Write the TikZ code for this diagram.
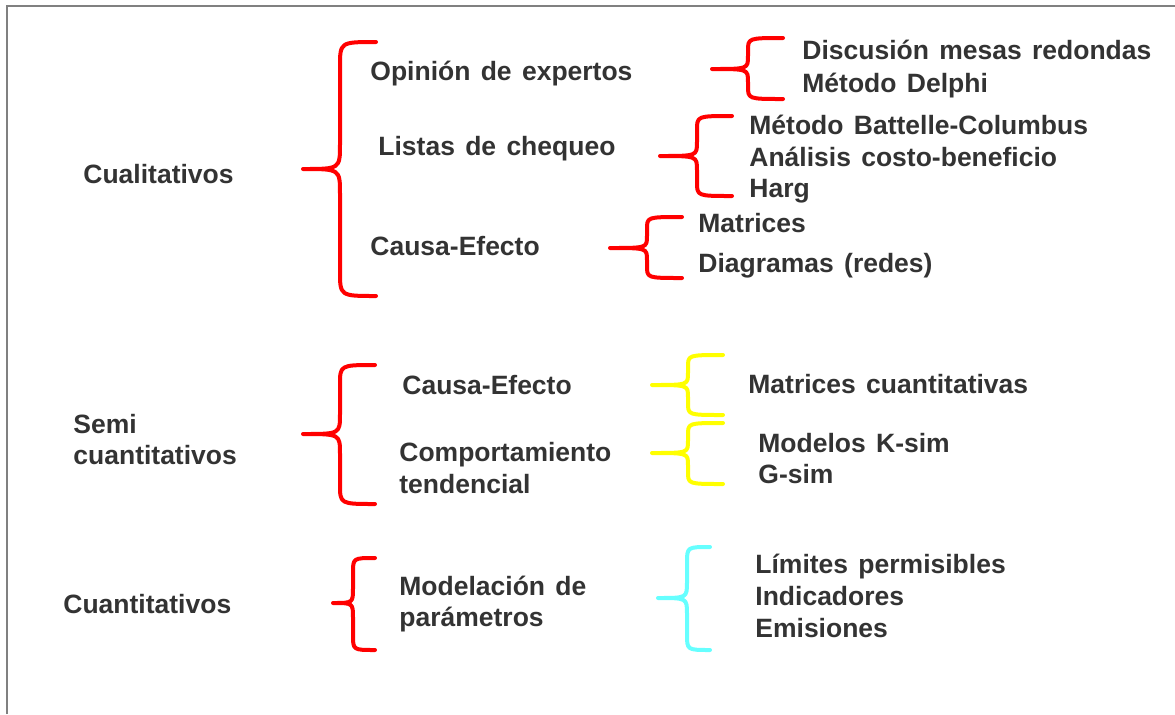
\documentclass[tikz,border=0pt]{standalone}
\usepackage{fontspec}
\setmainfont{Liberation Sans}[WordSpace=1.4]
\usepackage{xcolor}
\definecolor{gristexto}{RGB}{51,51,51}
\definecolor{rojo}{RGB}{255,0,0}
\definecolor{amarillo}{RGB}{255,255,0}
\definecolor{celeste}{RGB}{102,255,255}
\definecolor{marco}{RGB}{128,128,128}

\begin{document}
\begin{tikzpicture}[x=0.5pt,y=-0.5pt,
	etiqueta/.style={anchor=base west,inner sep=0pt,text=gristexto,font=\fontsize{13.25}{16}\selectfont\bfseries},
	llave/.style={line width=2pt,line cap=round,line join=round}]
				\useasboundingbox (0,0) rectangle (1175,714);
				\draw[marco, line width=1pt] (7,714) -- (7,5.5) -- (1175,5.5);
				% Cualitativos
				\node (cual) at (83,183) [etiqueta] {Cualitativos};
				\node (opin) at (370,80) [etiqueta] {Opinión de expertos};
				\node (list) at (378,155) [etiqueta] {Listas de chequeo};
				\node (causaA) at (370,255) [etiqueta] {Causa-Efecto};
				\node (disc) at (802,59) [etiqueta] {Discusión mesas redondas};
				\node (delphi) at (802,92) [etiqueta] {Método Delphi};
				\node (batt) at (749,134) [etiqueta] {Método Battelle-Columbus};
				\node (anal) at (749,166) [etiqueta] {Análisis costo-beneficio};
				\node (harg) at (749,197) [etiqueta] {Harg};
				\node (matr) at (698,232) [etiqueta] {Matrices};
				\node (diag) at (698,272) [etiqueta] {Diagramas (redes)};
				\draw[llave, rojo] (376,42) .. controls (340,42) .. (340,67) -- (340,144) .. controls (340,169) .. (303,169) .. controls (340,169) .. (340,194) -- (340,271) .. controls (340,296) .. (376,296);
				\draw[llave, rojo] (783,38) .. controls (748,38) .. (748,51) -- (748,56) .. controls (748,69) .. (712,69) .. controls (748,69) .. (748,82) -- (748,86) .. controls (748,99) .. (783,99);
				\draw[llave, rojo] (732,116) .. controls (697,116) .. (697,130) -- (697,142) .. controls (697,156) .. (660,156) .. controls (697,156) .. (697,170) -- (697,182) .. controls (697,196) .. (732,196);
				\draw[llave, rojo] (682,217) .. controls (647,217) .. (647,229) -- (647,236) .. controls (647,248) .. (610,248) .. controls (647,248) .. (647,260) -- (647,266) .. controls (647,278) .. (682,278);
				% Semi cuantitativos
				\node (semi) at (73,433) [etiqueta] {Semi};
				\node (semiB) at (73,464) [etiqueta] {cuantitativos};
				\node (causaB) at (402,394) [etiqueta] {Causa-Efecto};
				\node (comp) at (399,461) [etiqueta] {Comportamiento};
				\node (compB) at (399,493) [etiqueta] {tendencial};
				\node (matc) at (748,393) [etiqueta] {Matrices cuantitativas};
				\node (kmod) at (758,452) [etiqueta] {Modelos K-sim};
				\node (gsim) at (758,483) [etiqueta] {G-sim};
				\draw[llave, rojo] (375,365) .. controls (340,365) .. (340,385) -- (340,414) .. controls (340,434) .. (303,434) .. controls (340,434) .. (340,454) -- (340,484) .. controls (340,504) .. (375,504);
				\draw[llave, amarillo] (723,355) .. controls (688,355) .. (688,367) -- (688,373) .. controls (688,385) .. (652,385) .. controls (688,385) .. (688,397) -- (688,403) .. controls (688,415) .. (723,415);
				\draw[llave, amarillo] (723,423) .. controls (688,423) .. (688,435) -- (688,441) .. controls (688,453) .. (652,453) .. controls (688,453) .. (688,465) -- (688,472) .. controls (688,484) .. (723,484);
				% Cuantitativos
				\node (cuan) at (63,613) [etiqueta] {Cuantitativos};
				\node (model) at (399,595) [etiqueta] {Modelación de};
				\node (modelB) at (399,626) [etiqueta] {parámetros};
				\node (lim) at (755,573) [etiqueta] {Límites permisibles};
				\node (ind) at (755,605) [etiqueta] {Indicadores};
				\node (emi) at (755,637) [etiqueta] {Emisiones};
				\draw[llave, rojo] (375,558) .. controls (353,558) .. (353,573) -- (353,588) .. controls (353,603) .. (333,603) .. controls (353,603) .. (353,618) -- (353,635) .. controls (353,650) .. (375,650);
				\draw[llave, celeste] (710,547) .. controls (687,547) .. (687,563) -- (687,582) .. controls (687,598) .. (658,598) .. controls (687,598) .. (687,614) -- (687,634) .. controls (687,650) .. (710,650);
			\end{tikzpicture}
\end{document}
